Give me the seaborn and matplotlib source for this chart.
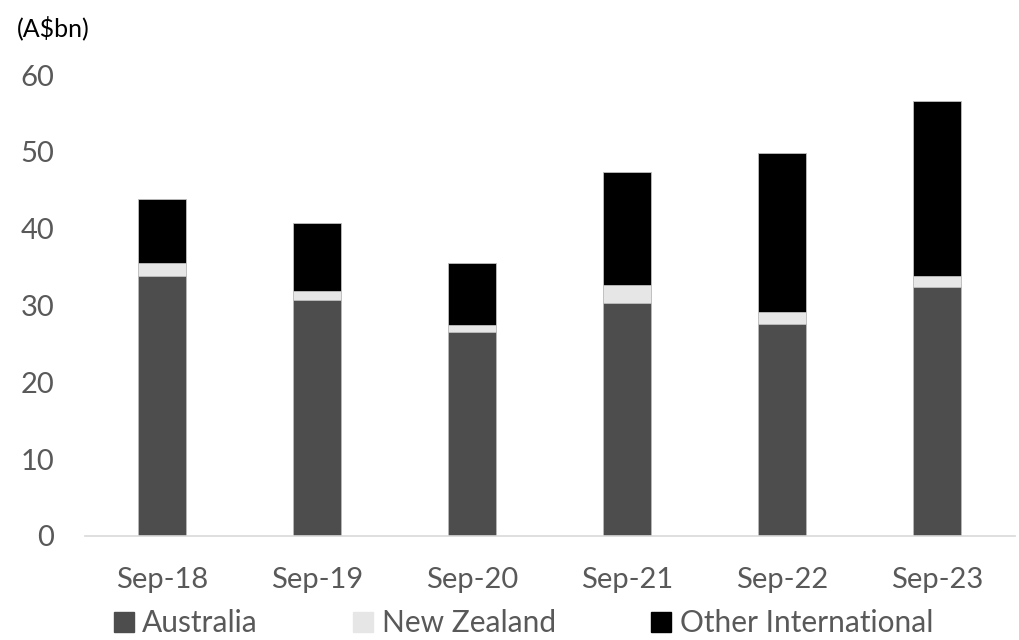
import matplotlib
matplotlib.use("Agg")
import matplotlib.pyplot as plt
from matplotlib.lines import Line2D
import numpy as np
import pandas as pd
import seaborn as sns

periods = ["Sep-18", "Sep-19", "Sep-20", "Sep-21", "Sep-22", "Sep-23"]
australia = [33.9, 30.7, 26.5, 30.3, 27.6, 32.4]
new_zealand = [1.6, 1.2, 0.9, 2.4, 1.5, 1.5]
other_international = [8.4, 8.8, 8.1, 14.7, 20.8, 22.7]
y_ticks = [0, 10, 20, 30, 40, 50, 60]

series_names = ["Australia", "New Zealand", "Other International"]
colors = {"Australia": "#4d4d4d", "New Zealand": "#e6e6e6", "Other International": "#000000"}

sns.set_theme(style="white")
plt.rcParams["font.family"] = ["Lato", "DejaVu Sans"]

df = pd.DataFrame({
    "period": periods,
    "Australia": australia,
    "New Zealand": new_zealand,
    "Other International": other_international,
})
# cumulative tops for stacking (drawn back to front)
df["cum_aus"] = df["Australia"]
df["cum_nz"] = df["cum_aus"] + df["New Zealand"]
df["cum_oth"] = df["cum_nz"] + df["Other International"]

fig = plt.figure(figsize=(10.19, 6.4), dpi=100)
ax = fig.add_axes([0.083, 0.1625, 0.9126, 0.7203])

for col, name in [("cum_oth", "Other International"), ("cum_nz", "New Zealand"), ("cum_aus", "Australia")]:
    sns.barplot(data=df, x="period", y=col, color=colors[name], width=0.315,
                edgecolor="#bfbfbf", linewidth=0.6, saturation=1, ax=ax, errorbar=None)

ax.set_xlim(-0.5, len(periods) - 0.5)
ax.set_ylim(0, 60)
ax.set_yticks(y_ticks)
ax.set_xlabel("")
ax.set_ylabel("")
for s in ["top", "right", "left"]:
    ax.spines[s].set_visible(False)
ax.spines["bottom"].set_color("#d9d9d9")
ax.spines["bottom"].set_linewidth(1.2)
ax.tick_params(axis="both", length=0, labelsize=21, labelcolor="#595959")
ax.tick_params(axis="y", pad=22)
ax.tick_params(axis="x", pad=22)

fig.text(0.017, 0.956, "(A$bn)", fontsize=18, color="#000000", va="center", ha="left")

handles = [Line2D([0], [0], marker="s", linestyle="none", markersize=14,
                  markerfacecolor=colors[n], markeredgecolor=colors[n]) for n in series_names]
fig.legend(handles, series_names, loc="center", bbox_to_anchor=(0.514, 0.026), ncol=3,
           frameon=False, fontsize=21.5, labelcolor="#595959", handletextpad=0.3,
           columnspacing=3.2, handlelength=0.65, borderpad=0, borderaxespad=0)

fig.savefig("out.png", dpi=100)
